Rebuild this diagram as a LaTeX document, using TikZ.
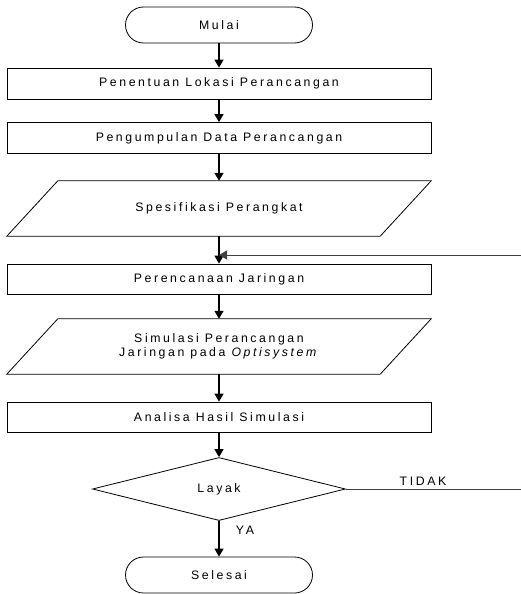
\documentclass[tikz,border=0pt]{standalone}
\usepackage{fontspec}
\setmainfont[LetterSpace=21]{Liberation Sans}
\usetikzlibrary{shapes.geometric,arrows.meta}
\begin{document}
\begin{tikzpicture}[x=1pt,y=-1pt,
  font=\fontsize{12.3}{14.5}\selectfont,
  terminal/.style={draw,line width=0.8pt,rounded corners=18pt,minimum width=187pt,minimum height=36pt,inner sep=0pt},
  procbox/.style={draw,line width=0.8pt,minimum width=424pt,minimum height=31pt,inner sep=0pt},
  iobox/.style={minimum width=424pt,minimum height=55pt,inner sep=0pt,align=center},
  decision/.style={diamond,draw,line width=0.8pt,minimum width=253pt,minimum height=63pt,inner sep=0pt},
  flow/.style={line width=1.6pt,-{Triangle[length=8pt,width=9pt]}},
  loopline/.style={line width=1pt,black!75},
  lbl/.style={inner sep=0pt}]
\useasboundingbox (0,0) rectangle (521,594);
\node[terminal] (mulai) at (219,25) {Mulai};
\node[procbox] (b1) at (219,83.5) {Penentuan Lokasi Perancangan};
\node[procbox] (b2) at (219,138) {Pengumpulan Data Perancangan};
\node[iobox] (p1) at (219,208.5) {Spesifikasi Perangkat};
\draw[line width=0.8pt] ([xshift=51pt]p1.north west) -- (p1.north east) -- ([xshift=-51pt]p1.south east) -- (p1.south west) -- cycle;
\node[procbox,minimum height=30pt] (b3) at (219,279) {Perencanaan Jaringan};
\node[iobox] (p2) at (219,346.5) {Simulasi Perancangan\\Jaringan pada \textit{Optisystem}};
\draw[line width=0.8pt] ([xshift=51pt]p2.north west) -- (p2.north east) -- ([xshift=-51pt]p2.south east) -- (p2.south west) -- cycle;
\node[procbox,minimum height=30pt] (b4) at (219,417) {Analisa Hasil Simulasi};
\node[decision] (d) at (219,489) {Layak};
\node[terminal] (selesai) at (219,575) {Selesai};
\coordinate (j) at (219,255);
\coordinate (r1) at (530,489);
\coordinate (r2) at (530,255);
\draw[flow] (mulai) -- (b1);
\draw[flow] (b1) -- (b2);
\draw[flow] (b2) -- (p1);
\draw[flow] (p1) -- (b3);
\draw[flow] (b3) -- (p2);
\draw[flow] (p2) -- (b4);
\draw[flow] (b4) -- (d);
\draw[flow] (d) -- (selesai);
\draw[loopline] (d.east) -- (r1) -- (r2);
\draw[loopline,-{Triangle[length=8pt,width=9pt]}] (r2) -- (j);
\node[lbl] (tidak) at (423,481) {TIDAK};
\node[lbl] (ya) at (245,530) {YA};
\end{tikzpicture}
\end{document}
